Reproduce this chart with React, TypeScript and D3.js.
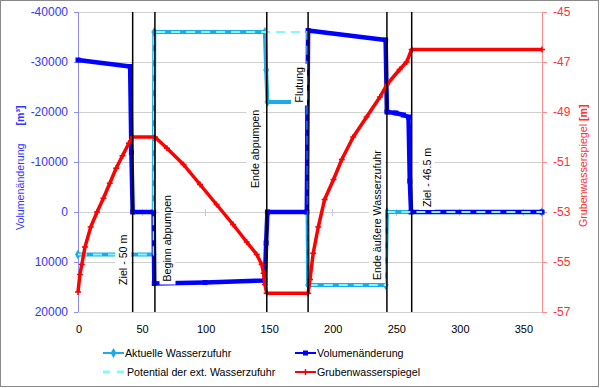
import React, { useEffect, useRef } from "react";
import * as d3 from "d3";

const FONT = "'Liberation Sans', Arial, sans-serif";

const xTicks = [0, 50, 100, 150, 200, 250, 300, 350];
const leftTicks = [-40000, -30000, -20000, -10000, 0, 10000, 20000];
const rightTicks = [-45, -47, -49, -51, -53, -55, -57];

// [day, m³]
const aktuelleWasserzufuhr: [number, number][] = [
  [0, 8500], [59.5, 8500], [60, -36000], [147, -36000], [148, -28400], [149, -22000],
  [180, -22000], [181, 14600], [242, 14600], [243, 0], [365, 0],
];
const potentialWasserzufuhr: [number, number][] = [
  [0, 8500], [59.5, 8500], [60, -36000], [180.5, -36000], [181, 14600],
  [242.5, 14600], [243, 0], [365, 0],
];
const volumenaenderung: [number, number][] = [
  [0, -30400], [41, -29100], [42, -11900], [43, 0], [59.5, 0], [60, 14300], [100, 14100],
  [147, 13700], [148, 6200], [149, 0], [180, 0], [181, -36300], [242, -34400], [243, -20000],
  [250, -19800], [256, -19400], [260, -19000], [261, -6200], [262, 0], [365, 0],
];
// [day, m]
const grubenwasserspiegel: [number, number][] = [
  [0, -56.2], [1.5, -55.5], [3, -55.1], [5.5, -54.4], [10, -53.6], [15, -53.0], [20, -52.45],
  [25, -51.85], [30, -51.25], [35, -50.75], [40, -50.25], [43, -50.0], [60.5, -50.0],
  [70, -50.45], [83, -51.1], [96, -51.9], [109, -52.7], [122, -53.5], [132.7, -54.2],
  [140.6, -54.7], [144.5, -55.1], [146, -55.45], [147, -55.9], [148.4, -56.25], [181, -56.25],
  [182.5, -55.7], [185, -54.65], [189, -53.6], [194, -52.5], [201, -51.7], [207.5, -50.9],
  [216.5, -50.0], [227, -49.2], [237.5, -48.4], [243, -47.9], [253, -47.3], [258.5, -47.0],
  [262.5, -46.5], [365, -46.5],
];

const eventDays = [43, 60.5, 148.5, 181, 243, 262.5];
const eventLabels = ["Ziel - 50 m", "Beginn abpumpen", "Ende abpumpen", "Flutung", "Ende äußere Wasserzufuhr", "Ziel - 46.5 m"];
const eventLabelDays = [35.4, 70.4, 139, 173.9, 235.2, 274.5];
const eventLabelBottoms = [14600, 13900, -4800, -21900, 13600, -1000];

const legendItems = ["Aktuelle Wasserzufuhr", "Volumenänderung", "Potential der ext. Wasserzufuhr", "Grubenwasserspiegel"];

const C_AKT = "#1CABE8";
const C_VOL = "#0000FF";
const C_POT = "#86F7FF";
const C_RED = "#FF0000";

export default function App() {
  const ref = useRef<SVGSVGElement>(null);
  useEffect(() => {
    const svg = d3.select(ref.current!);
    svg.selectAll("*").remove();
    const x = d3.scaleLinear().domain([0, 365]).range([78, 542]);
    const yL = d3.scaleLinear().domain([-40000, 20000]).range([12, 312]);
    const yR = d3.scaleLinear().domain([-45, -57]).range([12, 312]);

    svg.append("rect").attr("x", 0.5).attr("y", 0.5).attr("width", 598).attr("height", 386)
      .attr("fill", "#fff").attr("stroke", "#898989");

    // gridlines
    svg.append("g").selectAll("line").data(leftTicks).join("line")
      .attr("x1", x(0)).attr("x2", x(365))
      .attr("y1", (d) => Math.round(yL(d)) + 0.5).attr("y2", (d) => Math.round(yL(d)) + 0.5)
      .attr("stroke", "#D0D0D0").attr("stroke-width", 1);

    // x axis at 0 with ticks
    svg.append("g").selectAll("line").data(xTicks).join("line")
      .attr("x1", (d) => Math.round(x(d)) + 0.5).attr("x2", (d) => Math.round(x(d)) + 0.5)
      .attr("y1", yL(0) - 3).attr("y2", yL(0) + 4)
      .attr("stroke", "#C8C8C8");

    // left axis
    svg.append("line").attr("x1", 78.5).attr("x2", 78.5).attr("y1", yL(-40000)).attr("y2", yL(20000)).attr("stroke", "#8C8CFF");
    svg.append("g").selectAll("line").data(leftTicks).join("line")
      .attr("x1", 74).attr("x2", 78).attr("y1", (d) => Math.round(yL(d)) + 0.5).attr("y2", (d) => Math.round(yL(d)) + 0.5)
      .attr("stroke", "#8C8CFF");
    svg.append("g").selectAll("text").data(leftTicks).join("text")
      .attr("x", 68).attr("y", (d) => yL(d)).attr("dy", "0.35em").attr("text-anchor", "end")
      .attr("font-family", FONT).attr("font-size", 12).attr("fill", "#3434FF")
      .text((d) => String(d));

    // right axis
    svg.append("line").attr("x1", 542.5).attr("x2", 542.5).attr("y1", yR(-45)).attr("y2", yR(-57)).attr("stroke", "#FF8C8C");
    svg.append("g").selectAll("line").data(rightTicks).join("line")
      .attr("x1", 542).attr("x2", 547).attr("y1", (d) => Math.round(yR(d)) + 0.5).attr("y2", (d) => Math.round(yR(d)) + 0.5)
      .attr("stroke", "#FF8C8C");
    svg.append("g").selectAll("text").data(rightTicks).join("text")
      .attr("x", 553).attr("y", (d) => yR(d)).attr("dy", "0.35em").attr("text-anchor", "start")
      .attr("font-family", FONT).attr("font-size", 12).attr("fill", "#FF3030")
      .text((d) => String(d));

    // x tick labels
    svg.append("g").selectAll("text").data(xTicks).join("text")
      .attr("x", (d) => x(d) + 1).attr("y", 329).attr("dy", "0.35em").attr("text-anchor", "middle")
      .attr("font-family", FONT).attr("font-size", 11).attr("fill", "#000")
      .text((d) => String(d));

    // axis titles
    const lt = svg.append("text").attr("transform", "translate(20,230) rotate(-90)")
      .attr("dominant-baseline", "central").attr("font-family", FONT).attr("font-size", 10.67).attr("fill", "#3434FF");
    lt.append("tspan").text("Volumenänderung");
    lt.append("tspan").attr("dx", 18).attr("font-weight", "bold").text("[m³]");
    const rt = svg.append("text").attr("transform", "translate(583,227) rotate(-90)")
      .attr("dominant-baseline", "central").attr("font-family", FONT).attr("font-size", 10.67).attr("fill", "#FF3030");
    rt.append("tspan").text("Grubenwasserspiegel ");
    rt.append("tspan").attr("font-weight", "bold").text("[m]");

    const lineL = d3.line<[number, number]>().x((d) => x(d[0])).y((d) => yL(d[1]));
    const lineR = d3.line<[number, number]>().x((d) => x(d[0])).y((d) => yR(d[1]));

    // Aktuelle Wasserzufuhr
    svg.append("path").attr("d", lineL(aktuelleWasserzufuhr)!).attr("fill", "none")
      .attr("stroke", C_AKT).attr("stroke-width", 4).attr("stroke-linejoin", "round");
    const diamond = d3.symbol().type(d3.symbolDiamond).size(30)();
    svg.append("g").selectAll("path").data(aktuelleWasserzufuhr).join("path")
      .attr("d", diamond!).attr("transform", (d) => `translate(${x(d[0])},${yL(d[1])})`).attr("fill", C_AKT);

    // Volumenänderung
    svg.append("path").attr("d", lineL(volumenaenderung)!).attr("fill", "none")
      .attr("stroke", C_VOL).attr("stroke-width", 4.5).attr("stroke-linejoin", "round");
    svg.append("g").selectAll("rect").data(volumenaenderung).join("rect")
      .attr("x", (d) => x(d[0]) - 2.5).attr("y", (d) => yL(d[1]) - 2.5).attr("width", 5).attr("height", 5).attr("fill", C_VOL);

    // Potential
    svg.append("path").attr("d", lineL(potentialWasserzufuhr)!).attr("fill", "none")
      .attr("stroke", C_POT).attr("stroke-width", 2).attr("stroke-dasharray", "9,6");

    // Grubenwasserspiegel
    svg.append("path").attr("d", lineR(grubenwasserspiegel)!).attr("fill", "none")
      .attr("stroke", C_RED).attr("stroke-width", 3.5).attr("stroke-linejoin", "round");
    svg.append("g").selectAll("path").data(grubenwasserspiegel).join("path")
      .attr("d", "M-3,0H3M0,-3V3").attr("transform", (d) => `translate(${x(d[0])},${yR(d[1])})`)
      .attr("stroke", C_RED).attr("stroke-width", 1.5).attr("fill", "none");

    // event labels with white boxes
    eventLabels.forEach((lab, i) => {
      const g = svg.append("g").attr("transform", `translate(${x(eventLabelDays[i])},${yL(eventLabelBottoms[i])}) rotate(-90)`);
      const rect = g.append("rect").attr("fill", "#fff");
      const t = g.append("text").attr("x", 0).attr("y", 0).attr("dominant-baseline", "central")
        .attr("font-family", FONT).attr("font-size", 10.67).attr("fill", "#000").text(lab);
      const bb = (t.node() as SVGTextElement).getBBox();
      rect.attr("x", bb.x - 3).attr("y", bb.y - 2).attr("width", bb.width + 6).attr("height", bb.height + 4);
    });

    // event vertical lines
    svg.append("g").selectAll("line").data(eventDays).join("line")
      .attr("x1", (d) => x(d)).attr("x2", (d) => x(d)).attr("y1", yL(-40000)).attr("y2", yL(20000))
      .attr("stroke", "#000").attr("stroke-width", 1.5);

    // legend
    const lg = svg.append("g");
    const colX = [103, 295];
    const rowY = [353, 372];
    legendItems.forEach((name, i) => {
      const cx = colX[i % 2];
      const cy = rowY[Math.floor(i / 2)];
      if (i === 0) {
        lg.append("line").attr("x1", cx).attr("x2", cx + 21).attr("y1", cy).attr("y2", cy).attr("stroke", C_AKT).attr("stroke-width", 2);
        lg.append("path").attr("d", diamond!).attr("transform", `translate(${cx + 10.5},${cy})`).attr("fill", C_AKT);
      } else if (i === 1) {
        lg.append("line").attr("x1", cx).attr("x2", cx + 21).attr("y1", cy).attr("y2", cy).attr("stroke", C_VOL).attr("stroke-width", 2);
        lg.append("rect").attr("x", cx + 8).attr("y", cy - 2.5).attr("width", 5).attr("height", 5).attr("fill", C_VOL);
      } else if (i === 2) {
        lg.append("line").attr("x1", cx).attr("x2", cx + 21).attr("y1", cy).attr("y2", cy).attr("stroke", C_POT)
          .attr("stroke-width", 3).attr("stroke-dasharray", "7,7");
      } else {
        lg.append("line").attr("x1", cx).attr("x2", cx + 21).attr("y1", cy).attr("y2", cy).attr("stroke", C_RED).attr("stroke-width", 2);
        lg.append("path").attr("d", "M-3,0H3M0,-3V3").attr("transform", `translate(${cx + 10.5},${cy})`)
          .attr("stroke", C_RED).attr("stroke-width", 1.5);
      }
      lg.append("text").attr("x", cx + (i === 2 ? 24 : 22)).attr("y", cy).attr("dy", "0.35em")
        .attr("font-family", FONT).attr("font-size", 10.67).attr("fill", "#000").text(name);
    });
  }, []);
  return (
    <svg ref={ref} width={600} height={388}
      style={{ position: "absolute", left: 0, top: 0, display: "block", background: "#fff" }} />
  );
}
